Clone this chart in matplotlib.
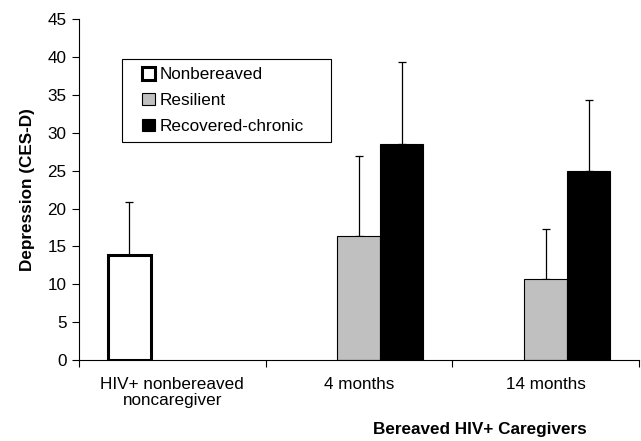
import numpy as np
import matplotlib
matplotlib.use("Agg")
import matplotlib.pyplot as plt
from matplotlib.patches import Patch, Rectangle

plt.rcParams["font.family"] = ["Liberation Sans", "DejaVu Sans"]

groups = ["HIV+ nonbereaved\nnoncaregiver", "4 months", "14 months"]
series = ["Nonbereaved", "Resilient", "Recovered-chronic"]

# group index, mean, upper error (SD)
nonbereaved_idx = [0]
nonbereaved_mean = [13.9]
nonbereaved_sd = [7.0]

resilient_idx = [1, 2]
resilient_mean = [16.4, 10.7]
resilient_sd = [10.6, 6.6]

chronic_idx = [1, 2]
chronic_mean = [28.5, 25.0]
chronic_sd = [10.9, 9.4]

width = 0.23
fs = 12.3

fig = plt.figure(figsize=(6.41, 4.41), dpi=100)
ax = fig.add_axes([0.1232, 0.1837, 0.8736, 0.7725])


def draw(idx, mean, sd, offset, face, lw):
    x = np.array(idx) + offset
    ax.bar(x, mean, width, color=face, edgecolor="black", linewidth=lw, zorder=2)
    ax.errorbar(x, mean, yerr=[np.zeros(len(sd)), sd], fmt="none",
                ecolor="black", elinewidth=0.9, capsize=3.2, capthick=0.9, zorder=1)


draw(nonbereaved_idx, nonbereaved_mean, nonbereaved_sd, -width, "white", 2.2)
draw(resilient_idx, resilient_mean, resilient_sd, 0.0, "#c0c0c0", 0.8)
draw(chronic_idx, chronic_mean, chronic_sd, width, "black", 0.8)

ax.set_xlim(-0.5, 2.5)
ax.set_ylim(0, 45)
ax.set_yticks(np.arange(0, 46, 5))
ax.set_xticks(range(3))
ax.set_xticklabels(groups, fontsize=fs, linespacing=1.1)
ax.set_xticks([-0.5, 0.5, 1.5, 2.5], minor=True)
ax.tick_params(axis="x", which="major", length=0, pad=12)
ax.tick_params(axis="x", which="minor", length=5, width=0.8, direction="out")
ax.tick_params(axis="y", length=5, width=0.8, direction="out", labelsize=fs, pad=4)
for s in ["top", "right"]:
    ax.spines[s].set_visible(False)
for s in ["left", "bottom"]:
    ax.spines[s].set_linewidth(0.8)

ax.set_ylabel("Depression (CES-D)", fontsize=fs, fontweight="bold", labelpad=9)
fig.text(0.749, 0.008, "Bereaved HIV+ Caregivers", fontsize=fs,
         fontweight="bold", ha="center", va="bottom")

# legend box drawn separately so the side padding can be wider than the top
ax.add_patch(Rectangle((0.0763, 0.640), 0.373, 0.243, transform=ax.transAxes,
                       facecolor="white", edgecolor="black", linewidth=0.8,
                       zorder=3))
handles = [
    Patch(facecolor="white", edgecolor="black", linewidth=2.2),
    Patch(facecolor="#c0c0c0", edgecolor="black", linewidth=0.8),
    Patch(facecolor="black", edgecolor="black", linewidth=0.8),
]
leg = ax.legend(handles, series, loc="center left", bbox_to_anchor=(0.112, 0.7615),
                borderaxespad=0, borderpad=0, fontsize=fs, frameon=False,
                handlelength=0.75, handleheight=0.75, handletextpad=0.3,
                labelspacing=0.62)
leg.set_zorder(4)

fig.savefig("out.png", dpi=100, facecolor="white")
